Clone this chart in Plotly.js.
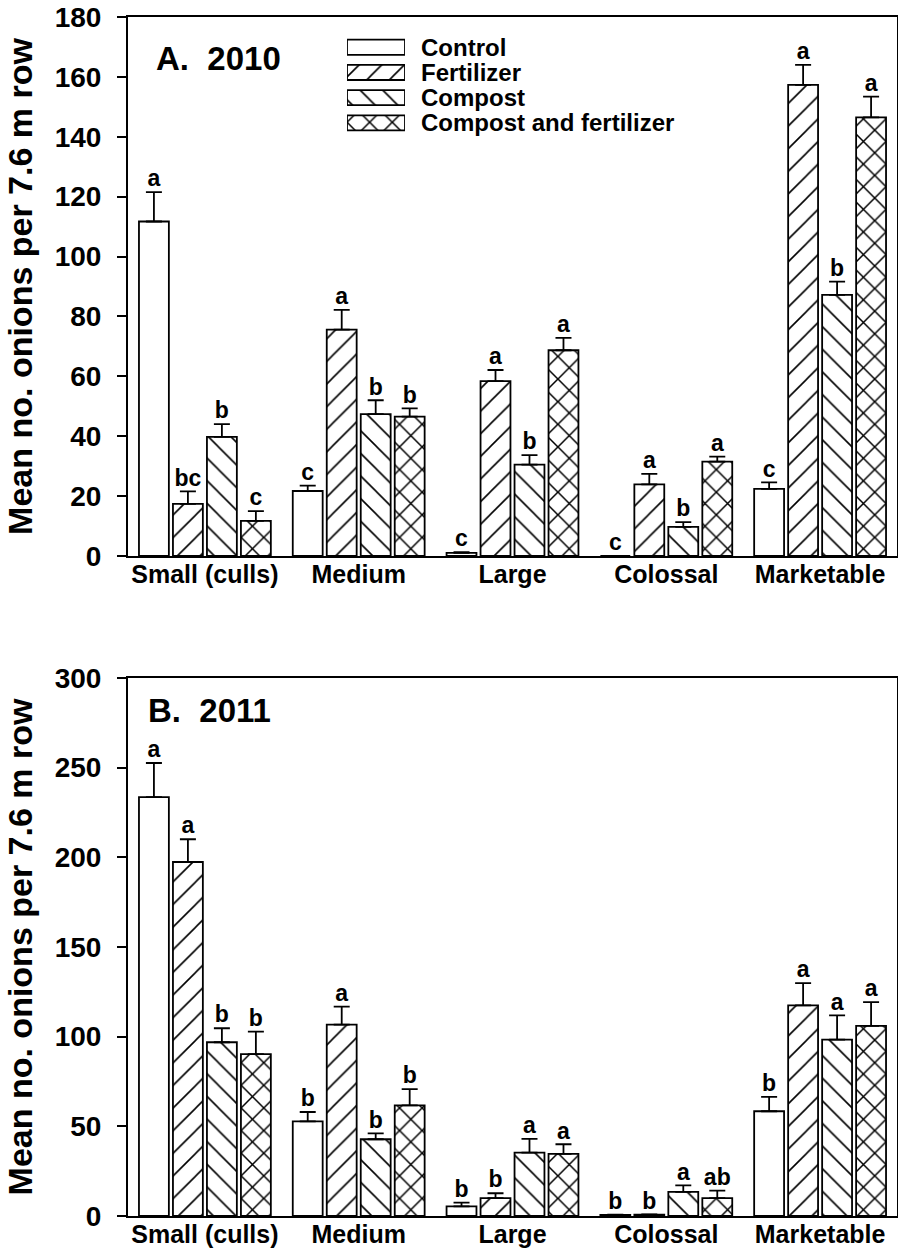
<!DOCTYPE html>
<html><head><meta charset="utf-8">
<script src="https://cdn.plot.ly/plotly-3.0.1.min.js"></script>
<style>html,body{margin:0;padding:0;background:#fff}</style>
</head><body><div id="chart" style="width:898px;height:1253px"></div>
<script>
const categories = ['Small (culls)', 'Medium', 'Large', 'Colossal', 'Marketable'];
const treatments = ['Control', 'Fertilizer', 'Compost', 'Compost and fertilizer'];
const patternShapes = ['', '/', '\\', 'x'];

// A. 2010
const mean2010_control    = [111.7, 21.7, 1.0, 0.0, 22.4];
const mean2010_fertilizer = [17.4, 75.6, 58.4, 23.9, 157.3];
const mean2010_compost    = [39.8, 47.4, 30.5, 9.7, 87.2];
const mean2010_compfert   = [11.7, 46.5, 68.7, 31.5, 146.5];
const se2010_control      = [9.8, 1.8, 0.3, 0.0, 2.2];
const se2010_fertilizer   = [4.2, 6.6, 3.7, 3.5, 6.7];
const se2010_compost      = [4.2, 4.6, 3.2, 1.6, 4.4];
const se2010_compfert     = [3.3, 2.8, 4.1, 1.7, 6.9];
const letters2010_control    = ['a', 'c', 'c', 'c', 'c'];
const letters2010_fertilizer = ['bc', 'a', 'a', 'a', 'a'];
const letters2010_compost    = ['b', 'b', 'b', 'b', 'b'];
const letters2010_compfert   = ['c', 'b', 'a', 'a', 'a'];

// B. 2011
const mean2011_control    = [233.6, 52.8, 5.4, 0.6, 58.4];
const mean2011_fertilizer = [197.4, 106.7, 10.0, 0.7, 117.5];
const mean2011_compost    = [96.9, 42.8, 35.3, 13.4, 98.4];
const mean2011_compfert   = [90.3, 61.7, 34.6, 10.0, 106.0];
const se2011_control      = [19.0, 5.2, 2.1, 0.2, 8.0];
const se2011_fertilizer   = [12.7, 10.1, 2.7, 0.2, 12.4];
const se2011_compost      = [7.8, 3.3, 7.7, 3.7, 13.5];
const se2011_compfert     = [12.5, 9.0, 5.4, 4.2, 13.3];
const letters2011_control    = ['a', 'b', 'b', 'b', 'b'];
const letters2011_fertilizer = ['a', 'a', 'b', 'b', 'a'];
const letters2011_compost    = ['b', 'b', 'a', 'a', 'a'];
const letters2011_compfert   = ['b', 'b', 'a', 'ab', 'a'];

const FONT = 'Liberation Sans, Arial, Helvetica, sans-serif';
const solidityFor = s => s === 'x' ? 0.18 : 0.1;
const PAT_SIZE = 16;

function panelTraces(xa, ya, means, ses, letters) {
  const out = [];
  means.forEach((m, k) => {
    out.push({
      type: 'bar', x: categories, y: m, name: treatments[k],
      xaxis: xa, yaxis: ya, offsetgroup: String(k), hoverinfo: 'skip',
      marker: {
        color: '#ffffff',
        line: {color: '#000000', width: 1.8},
        pattern: {shape: patternShapes[k], fgcolor: '#000000', bgcolor: '#ffffff',
                  size: PAT_SIZE, solidity: solidityFor(patternShapes[k])}
      },
      error_y: {type: 'data', symmetric: false, array: ses[k], arrayminus: ses[k].map(() => 0),
                color: '#000000', thickness: 1.8, width: 8}
    });
  });
  means.forEach((m, k) => {
    out.push({
      type: 'scatter', mode: 'text', x: categories, y: m.map((v, i) => v + ses[k][i]),
      text: letters[k], textposition: 'top center', xaxis: xa, yaxis: ya,
      offsetgroup: String(k), hoverinfo: 'skip', cliponaxis: false,
      textfont: {family: FONT, size: 23, weight: 'bold', color: '#000000'}
    });
  });
  return out;
}

const traces = [].concat(
  panelTraces('x', 'y',
    [mean2010_control, mean2010_fertilizer, mean2010_compost, mean2010_compfert],
    [se2010_control, se2010_fertilizer, se2010_compost, se2010_compfert],
    [letters2010_control, letters2010_fertilizer, letters2010_compost, letters2010_compfert]),
  panelTraces('x2', 'y2',
    [mean2011_control, mean2011_fertilizer, mean2011_compost, mean2011_compfert],
    [se2011_control, se2011_fertilizer, se2011_compost, se2011_compfert],
    [letters2011_control, letters2011_fertilizer, letters2011_compost, letters2011_compfert])
);

// legend swatches
traces.push({
  type: 'bar', orientation: 'h', x: treatments.map(() => 1), y: treatments, base: 0,
  xaxis: 'x3', yaxis: 'y3', width: 0.6, cliponaxis: false, hoverinfo: 'skip',
  marker: {
    color: '#ffffff', line: {color: '#000000', width: 1.8},
    pattern: {shape: patternShapes, fgcolor: '#000000', bgcolor: '#ffffff',
              size: PAT_SIZE, solidity: patternShapes.map(solidityFor)}
  }
});

const tickFontY = {family: FONT, size: 28, weight: 'bold', color: '#000'};
const tickFontX = {family: FONT, size: 25, weight: 'bold', color: '#000'};
const yTitle = {text: 'Mean no. onions per 7.6 m row', font: {family: FONT, size: 34, weight: 'bold', color: '#000'}, standoff: 12};

function xAxis(anchor) {
  return {anchor: anchor, type: 'category', showline: true, mirror: true, linecolor: '#000', linewidth: 2,
          ticks: '', showgrid: false, zeroline: false, tickfont: tickFontX, ticklabelstandoff: -5, fixedrange: true};
}
function yAxis(anchor, domain, range, dtick) {
  return {anchor: anchor, domain: domain, range: range, dtick: dtick, tick0: 0,
          showline: true, mirror: true, linecolor: '#000', linewidth: 2,
          ticks: 'outside', ticklen: 9, tickwidth: 2, tickcolor: '#000', ticklabelstandoff: 10,
          showgrid: false, zeroline: false, tickfont: tickFontY, title: yTitle, fixedrange: true};
}

const annotations = treatments.map(t => ({
  xref: 'paper', yref: 'y3', x: 0.3784, y: t, text: t, showarrow: false,
  xanchor: 'left', yanchor: 'middle', font: {family: FONT, size: 24, weight: 'bold', color: '#000'}
}));
annotations.push({xref: 'paper', yref: 'paper', x: 0.0338, y: 0.9658, text: 'A.\u00a0 2010', showarrow: false,
  xanchor: 'left', yanchor: 'middle', font: {family: FONT, size: 33, weight: 'bold', color: '#000'}});
annotations.push({xref: 'paper', yref: 'paper', x: 0.0234, y: 0.4212, text: 'B.\u00a0 2011', showarrow: false,
  xanchor: 'left', yanchor: 'middle', font: {family: FONT, size: 33, weight: 'bold', color: '#000'}});

const layout = {
  width: 898, height: 1253,
  margin: {l: 128, r: 1, t: 17, b: 37},
  paper_bgcolor: '#fff', plot_bgcolor: '#fff',
  showlegend: false,
  barmode: 'group', bargap: 0.116, bargroupgap: 0.12,
  scattermode: 'group',
  font: {family: FONT, color: '#000'},
  xaxis: xAxis('y'),
  yaxis: yAxis('x', [0.5505, 1], [0, 180], 20),
  xaxis2: xAxis('y2'),
  yaxis2: yAxis('x2', [0, 0.4487], [0, 300], 50),
  xaxis3: {domain: [0.2848, 0.3602], range: [0, 1], visible: false, anchor: 'y3', fixedrange: true},
  yaxis3: {domain: [0.8988, 0.9877], type: 'category', autorange: 'reversed', visible: false, anchor: 'x3', fixedrange: true},
  annotations: annotations
};

Plotly.newPlot('chart', traces, layout, {staticPlot: true, displayModeBar: false});
</script></body></html>
